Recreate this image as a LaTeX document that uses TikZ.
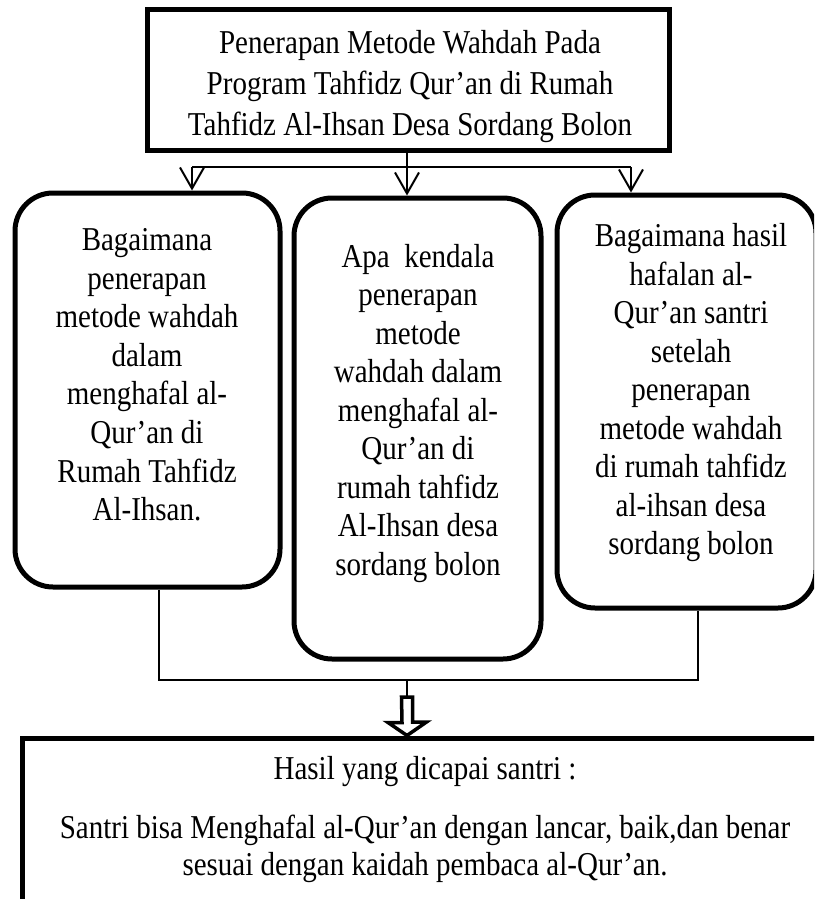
\documentclass[tikz,border=0pt]{standalone}
\usepackage{fontspec}
\usepackage{graphicx}
\setmainfont{Liberation Serif}
\usetikzlibrary{arrows.meta}
\newcommand{\stretchtext}[1]{\scalebox{1}[1.15]{\begin{tabular}{@{}c@{}}#1\end{tabular}}}
\tikzset{
  sqbox/.style={draw, line width=5pt, minimum width=#1, inner sep=0pt},
  rbox/.style={draw, line width=5pt, rounded corners=38pt, inner sep=0pt},
  txt/.style={inner sep=0pt, font=\fontsize{29}{33.5}\selectfont},
  thinline/.style={line width=1.4pt},
  arr/.style={line width=2pt, -{Straight Barb[length=21pt,width=24pt,line width=2pt]}},
  hollow/.style={draw, fill=white, line width=3.5pt, line join=miter},
}
\begin{document}
\begin{tikzpicture}[x=1pt, y=-1pt]
\useasboundingbox (0,0) rectangle (814,899);
\clip (0,0) rectangle (814,899);
% boxes
\node[sqbox=522pt, minimum height=140pt] (top) at (408,80) {};
\node[txt, font=\fontsize{29}{35.7}\selectfont] (toptext) at (410,86)
  {\stretchtext{Penerapan Metode Wahdah Pada\\Program Tahfidz Qur’an di Rumah\\Tahfidz Al-Ihsan Desa Sordang Bolon}};
\node[rbox, minimum width=265pt, minimum height=394pt] (left) at (147.5,390) {};
\node[txt] (lefttext) at (147,378)
  {\stretchtext{Bagaimana\\penerapan\\metode wahdah\\dalam\\menghafal al-\\Qur’an di\\Rumah Tahfidz\\Al-Ihsan.}};
\node[rbox, minimum width=247pt, minimum height=461pt] (mid) at (417.5,428.5) {};
\node[txt] (midtext) at (418,413.5)
  {\stretchtext{Apa~ kendala\\penerapan\\metode\\wahdah dalam\\menghafal al-\\Qur’an di\\rumah tahfidz\\Al-Ihsan desa\\sordang bolon}};
\node[rbox, minimum width=259pt, minimum height=413pt] (right) at (686.5,401.5) {};
\node[txt] (righttext) at (691,393)
  {\stretchtext{Bagaimana hasil\\hafalan al-\\Qur’an santri\\setelah\\penerapan\\metode wahdah\\di rumah tahfidz\\al-ihsan desa\\sordang bolon}};
\node[sqbox=806pt, minimum height=182pt] (res) at (425,829) {};
\node[txt, font=\fontsize{29}{32.2}\selectfont] (restext) at (425,820)
  {\stretchtext{Hasil yang dicapai santri :\\[19pt]Santri bisa Menghafal al-Qur’an dengan lancar, baik,dan benar\\sesuai dengan kaidah pembaca al-Qur’an.}};
% top connectors
\coordinate (hl) at (192,167);
\coordinate (hr) at (631,167);
\coordinate (hm) at (407,150);
\draw[line width=2pt] (hl) -- (hr);
\draw[arr] (hm) -- (hm |- mid.north);
\draw[arr] (hl) -- (hl |- left.north);
\draw[arr] (hr) -- (hr |- right.north);
% bottom connectors
\coordinate (bl) at (159,680);
\coordinate (br) at (698,680);
\coordinate (s1) at (407,680);
\coordinate (s2) at (407,697);
\draw[thinline] (left.south -| bl) -- (bl) -- (br) -- (right.south -| br);
\draw[thinline] (s1) -- (s2);
\draw[hollow] (s2) ++(-5.5,0) -- ++(11,0) -- ++(0,25) -- ++(14,0) -- (res.north -| s2) -- ++(-19,-13) -- ++(14,0) -- cycle;
\end{tikzpicture}
\end{document}
